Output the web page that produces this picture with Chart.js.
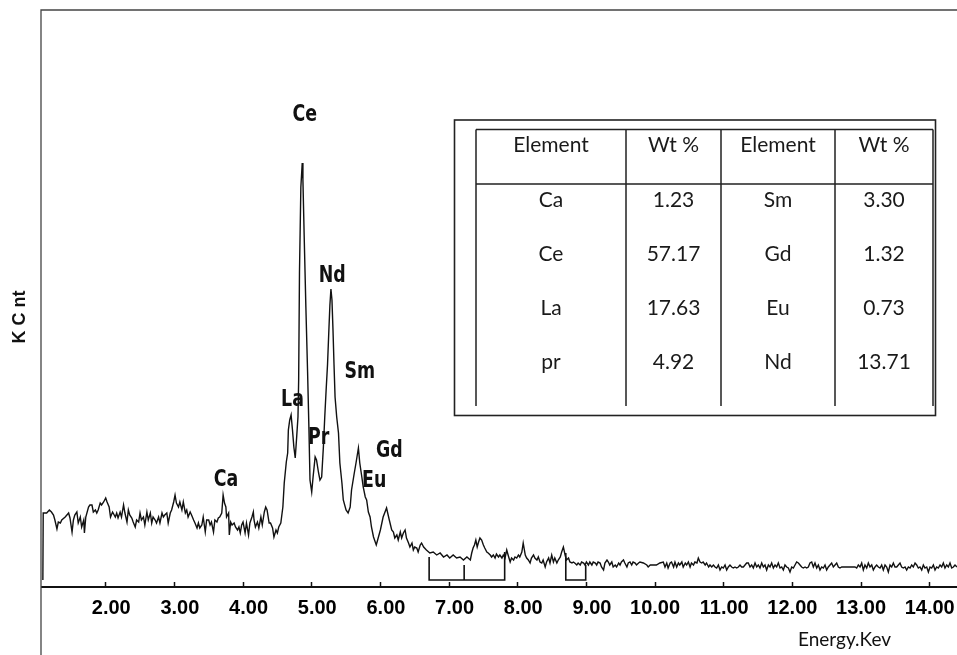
<!DOCTYPE html>
<html>
<head>
<meta charset="utf-8">
<script src="https://cdn.jsdelivr.net/npm/chart.js@4.4.0/dist/chart.umd.min.js"></script>
<style>
  html, body { margin: 0; padding: 0; background: #fff; }
  #wrap { width: 957px; height: 655px; position: relative; }
</style>
</head>
<body>
<div id="wrap"><canvas id="edsChart"></canvas></div>
<script>
// EDS spectrum: [energy keV, counts]
const spectrum = [
  [1.085,0],[1.09,67],[1.12,67],[1.14,67],[1.18,70],[1.21,68],[1.24,65],[1.26,60],[1.29,51],[1.31,58],
  [1.34,57],[1.36,60],[1.41,63],[1.46,67],[1.48,62],[1.51,48],[1.53,60],[1.55,65],[1.58,68],[1.60,57],
  [1.63,63],[1.65,53],[1.68,60],[1.69,47],[1.71,63],[1.75,73],[1.77,75],[1.80,75],[1.82,68],[1.85,70],
  [1.87,67],[1.89,70],[1.92,77],[1.94,75],[1.97,78],[2.00,82],[2.02,78],[2.05,73],[2.07,63],[2.10,68],
  [2.14,63],[2.16,67],[2.18,62],[2.21,68],[2.23,63],[2.26,75],[2.28,67],[2.31,58],[2.33,70],[2.35,65],
  [2.38,62],[2.40,58],[2.43,53],[2.45,60],[2.48,58],[2.50,67],[2.52,60],[2.55,63],[2.57,55],[2.60,68],
  [2.62,60],[2.65,67],[2.67,57],[2.69,63],[2.72,60],[2.74,57],[2.77,63],[2.79,57],[2.82,67],[2.84,63],
  [2.86,65],[2.89,67],[2.91,57],[2.94,67],[2.96,70],[2.99,78],[3.01,85],[3.03,77],[3.06,73],[3.08,78],
  [3.11,70],[3.13,78],[3.16,67],[3.18,70],[3.20,63],[3.23,68],[3.25,65],[3.28,60],[3.30,57],[3.33,52],
  [3.35,57],[3.37,52],[3.40,55],[3.42,63],[3.45,48],[3.47,60],[3.50,60],
  [3.52,55],[3.54,58],[3.57,48],[3.59,60],[3.62,58],[3.64,62],[3.66,63],[3.69,67],[3.71,85],[3.73,77],
  [3.75,73],[3.76,63],[3.79,67],[3.80,45],[3.82,58],[3.84,55],[3.87,57],[3.89,53],[3.92,50],[3.94,53],
  [3.96,47],[3.98,55],[4.00,58],[4.03,47],[4.05,57],[4.08,45],[4.10,57],[4.13,63],[4.15,68],[4.16,60],
  [4.18,53],[4.21,58],[4.23,52],[4.26,63],[4.28,55],[4.31,68],[4.33,73],[4.35,70],[4.38,57],[4.40,57],
  [4.43,52],[4.45,43],[4.48,50],[4.50,47],[4.52,53],[4.55,57],[4.58,73],[4.60,97],[4.63,118],[4.65,127],
  [4.66,150],[4.68,160],[4.70,165],[4.72,150],[4.74,133],[4.76,122],[4.78,142],[4.80,163],
  [4.81,200],[4.822,308],[4.842,393],[4.862,417],[4.872,400],[4.89,345],[4.915,273],[4.94,208],[4.96,150],[4.975,100],
  [5.00,88],[5.02,103],[5.05,123],[5.07,120],[5.10,107],[5.12,100],[5.145,103],[5.17,133],[5.19,163],[5.21,190],
  [5.23,215],[5.25,250],[5.265,275],[5.28,291],[5.295,280],[5.31,250],[5.325,215],[5.34,183],[5.364,163],[5.39,147],
  [5.41,117],[5.44,97],[5.46,80],[5.50,70],[5.53,67],[5.56,73],[5.58,90],[5.62,107],[5.645,117],[5.68,132],
  [5.70,117],[5.73,103],[5.75,93],[5.78,83],[5.80,80],[5.825,68],[5.85,63],[5.87,53],[5.90,43],[5.94,35],
  [5.96,40],[6.00,50],[6.04,63],[6.09,72],[6.13,60],[6.165,50],[6.19,48],[6.21,42],[6.24,45],[6.26,40],
  [6.29,48],[6.31,42],[6.335,47],[6.36,50],[6.38,42],[6.41,37],[6.43,33],[6.46,37],[6.48,30],[6.50,33],
  [6.53,32],[6.55,28],[6.58,35],[6.60,37],[6.63,33],[6.67,30],[6.72,27],[6.77,28],[6.82,25],[6.87,27],
  [6.92,23],[6.97,25],[7.01,22],[7.06,25],[7.11,22],[7.16,23],[7.21,20],[7.26,23],[7.31,20],[7.33,27],
  [7.35,32],[7.37,35],[7.39,40],[7.41,33],[7.43,38],[7.45,42],[7.475,40],[7.50,35],[7.52,32],[7.55,28],
  [7.57,27],[7.60,25],[7.62,23],[7.645,25],[7.67,22],[7.69,26],[7.72,23],[7.74,25],[7.77,22],[7.79,25],
  [7.815,22],[7.84,30],[7.86,25],[7.89,18],[7.91,22],[7.94,20],[7.96,23],[7.985,22],[8.01,25],[8.03,23],
  [8.06,28],[8.08,37],[8.11,25],[8.13,22],[8.155,20],[8.18,17],[8.20,22],[8.23,25],[8.25,22],[8.28,20],
  [8.30,23],[8.325,18],[8.35,17],[8.37,20],[8.40,13],[8.42,18],[8.45,22],[8.47,17],[8.495,25],[8.52,18],
  [8.54,22],[8.57,17],[8.59,20],[8.62,23],[8.64,28],[8.665,33],[8.69,25],[8.71,20],[8.74,22],[8.76,18],
  [8.79,17],[8.81,18],[8.83,17],[8.86,15],[8.88,17],[8.91,15],[8.93,18],[8.96,17],[8.98,15],[9.00,18],
  [9.03,15],[9.05,18],[9.08,15],[9.10,18],[9.13,17],[9.15,15],[9.17,18],[9.20,17],[9.22,13],[9.25,10],
  [9.27,17],[9.30,20],[9.32,18],[9.34,15],[9.37,18],[9.39,13],[9.42,15],[9.44,13],[9.47,17],[9.49,15],
  [9.51,18],[9.54,20],[9.56,17],[9.59,13],[9.61,17],[9.635,18],[9.66,15],[9.68,18],[9.71,17],[9.73,15],
  [9.76,17],[9.78,18],[9.83,17],[9.88,15],[9.90,13],[9.93,15],[9.975,15],[10.02,15],[10.07,17],[10.12,18],
  [10.145,13],[10.17,17],[10.19,12],[10.22,17],[10.24,18],[10.27,13],[10.29,18],[10.315,13],[10.34,17],[10.36,15],
  [10.39,18],[10.41,13],[10.44,17],[10.46,15],[10.485,18],[10.51,13],[10.53,17],[10.56,15],[10.58,18],[10.61,17],
  [10.63,22],[10.655,18],[10.68,17],[10.70,18],[10.73,15],[10.75,17],[10.78,13],[10.80,15],[10.825,13],[10.85,15],
  [10.873,13],[10.897,12],[10.922,15],[10.946,10],[10.97,13],[10.994,12],[11.019,15],[11.043,10],[11.067,13],[11.091,15],
  [11.116,13],[11.14,12],[11.164,13],[11.189,12],[11.213,13],[11.237,15],[11.261,13],[11.286,13],[11.31,15],[11.334,17],
  [11.358,17],[11.383,13],[11.407,15],[11.431,12],[11.456,17],[11.48,13],[11.504,15],[11.528,12],[11.553,17],[11.577,13],
  [11.601,15],[11.625,10],[11.65,15],[11.674,13],[11.698,17],[11.723,12],[11.747,15],[11.771,13],[11.795,17],[11.82,12],
  [11.844,13],[11.868,10],[11.892,15],[11.917,13],[11.941,12],[11.965,8],[11.99,13],[12.014,12],[12.038,15],[12.062,18],
  [12.087,17],[12.111,15],[12.135,13],[12.159,12],[12.184,13],[12.208,12],[12.232,13],[12.256,17],[12.281,18],[12.305,13],
  [12.329,17],[12.354,12],[12.378,15],[12.402,10],[12.426,13],[12.451,12],[12.475,15],[12.499,10],[12.523,13],[12.548,15],
  [12.572,17],[12.596,13],[12.621,15],[12.645,17],[12.669,13],[12.693,12],[12.718,13],[12.766,13],[12.815,13],[12.863,13],
  [12.912,13],[12.936,12],[12.96,15],[12.985,13],[13.009,17],[13.033,10],[13.057,15],[13.082,12],[13.106,17],[13.13,13],
  [13.155,15],[13.179,10],[13.203,13],[13.227,15],[13.252,13],[13.276,12],[13.3,15],[13.324,10],[13.349,15],[13.373,13],
  [13.397,8],[13.422,15],[13.446,13],[13.47,17],[13.494,13],[13.519,13],[13.543,15],[13.567,17],[13.591,13],[13.616,12],
  [13.64,13],[13.664,10],[13.689,13],[13.713,12],[13.737,15],[13.761,13],[13.786,17],[13.81,15],[13.834,12],[13.858,13],
  [13.883,10],[13.907,15],[13.931,12],[13.956,13],[13.98,8],[14.004,13],[14.028,12],[14.053,15],[14.077,10],[14.101,13],
  [14.125,12],[14.15,15],[14.174,13],[14.198,17],[14.222,12],[14.247,15],[14.271,13],[14.295,17],[14.32,12],[14.344,13],
  [14.368,15],[14.397,13]
];

// region-of-interest brackets under the spectrum (null breaks the line)
const roiKeV    = [6.71, 6.71, 7.81, 7.81, null, 7.22, 7.22, null, 8.70, 8.70, 8.99, 8.99];
const roiCounts = [23,   0,    0,    28,   null, 15,   0,    null, 27,   0,    0,    15];

// peak identification labels
const peakNames  = ['Ce', 'Nd', 'Sm', 'La', 'Pr', 'Gd', 'Eu', 'Ca'];
const peakKeV    = [4.90, 5.30, 5.70, 4.72, 5.10, 6.13, 5.91, 3.75];
const peakCounts = [465,  304,  208,  180,  142,  129,  99,   100];

const xTicks = [2, 3, 4, 5, 6, 7, 8, 9, 10, 11, 12, 13, 14];

// composition table
const tableHeader = ['Element', 'Wt %', 'Element', 'Wt %'];
const elemLeft  = ['Ca', 'Ce', 'La', 'pr'];
const wtLeft    = ['1.23', '57.17', '17.63', '4.92'];
const elemRight = ['Sm', 'Gd', 'Eu', 'Nd'];
const wtRight   = ['3.30', '1.32', '0.73', '13.71'];

const condensed = "'DejaVu Sans Condensed', 'DejaVu Sans', sans-serif";

const decor = {
  id: 'edsDecor',
  afterDraw(chart) {
    const { ctx, scales } = chart;
    const xs = scales.x, ys = scales.y;
    ctx.save();

    // frame: left and top edges
    ctx.strokeStyle = '#444';
    ctx.lineWidth = 1.3;
    ctx.beginPath();
    ctx.moveTo(41, 655);
    ctx.lineTo(41, 10);
    ctx.lineTo(957, 10);
    ctx.stroke();

    // peak labels, squeezed a little to get the narrow bold look
    ctx.fillStyle = '#111';
    ctx.font = 'bold 23px ' + condensed;
    ctx.textAlign = 'center';
    ctx.textBaseline = 'middle';
    peakNames.forEach((name, i) => {
      ctx.save();
      ctx.translate(xs.getPixelForValue(peakKeV[i]), ys.getPixelForValue(peakCounts[i]));
      ctx.scale(0.84, 1);
      ctx.fillText(name, 0, 0);
      ctx.restore();
    });

    // axis titles
    ctx.font = "19px Lato, 'Open Sans', sans-serif";
    ctx.textAlign = 'left';
    ctx.textBaseline = 'alphabetic';
    ctx.fillText('Energy.Kev', 798, 646);

    ctx.save();
    ctx.translate(20, 317);
    ctx.rotate(-Math.PI / 2);
    ctx.font = "bold 18px 'Liberation Sans', sans-serif";
    ctx.textAlign = 'center';
    ctx.textBaseline = 'middle';
    ctx.fillText('K C nt', 0, 0);
    ctx.restore();

    // table
    ctx.strokeStyle = '#222';
    ctx.lineWidth = 1.6;
    ctx.strokeRect(454.5, 120, 481, 295.5);

    const colX = [476, 626, 721, 835, 933];
    const top = 129.5, headBottom = 184, bottom = 406;
    ctx.lineWidth = 1.5;
    ctx.beginPath();
    ctx.moveTo(colX[0], top); ctx.lineTo(colX[4], top);
    ctx.moveTo(colX[0], headBottom); ctx.lineTo(colX[4], headBottom);
    colX.forEach(x => { ctx.moveTo(x, top); ctx.lineTo(x, bottom); });
    ctx.stroke();

    const centers = [551, 673.5, 778, 884];
    const rowY = [200, 254, 308, 362.5];
    ctx.font = "21px Lato, 'Open Sans', sans-serif";
    ctx.textAlign = 'center';
    ctx.textBaseline = 'middle';
    ctx.fillStyle = '#1a1a1a';
    tableHeader.forEach((t, i) => ctx.fillText(t, centers[i], 145));
    [elemLeft, wtLeft, elemRight, wtRight].forEach((col, c) => {
      col.forEach((t, r) => ctx.fillText(t, centers[c], rowY[r]));
    });

    ctx.restore();
  }
};

new Chart(document.getElementById('edsChart'), {
  type: 'line',
  data: {
    datasets: [
      {
        data: spectrum.map(([e, c]) => ({ x: e, y: c })),
        borderColor: '#111',
        borderWidth: 1.4,
        pointRadius: 0,
        tension: 0,
        fill: false
      },
      {
        data: roiKeV.map((e, i) => ({ x: e, y: roiCounts[i] })),
        borderColor: '#111',
        borderWidth: 1.6,
        pointRadius: 0,
        spanGaps: false,
        fill: false
      }
    ]
  },
  options: {
    responsive: true,
    maintainAspectRatio: false,
    animation: false,
    events: [],
    layout: { padding: { top: 10, left: 42, right: 0, bottom: 0 } },
    plugins: { legend: { display: false }, tooltip: { enabled: false } },
    scales: {
      x: {
        type: 'linear',
        min: 1.0724,
        max: 14.397,
        afterBuildTicks: (s) => { s.ticks = xTicks.map(v => ({ value: v })); },
        afterFit: (s) => { s.height = 68; },
        ticks: {
          callback: (v) => Number(v).toFixed(2),
          align: 'end',
          labelOffset: 25,
          padding: 14,
          autoSkip: false,
          maxRotation: 0,
          color: '#000',
          font: { family: "'Liberation Sans', Arial, sans-serif", size: 20, weight: 'bold' }
        },
        grid: {
          display: true,
          drawOnChartArea: false,
          drawTicks: true,
          tickLength: -5,
          tickWidth: 1.5,
          tickColor: '#111'
        },
        border: { display: true, color: '#111', width: 2 }
      },
      y: {
        display: false,
        min: -7,
        max: 570
      }
    }
  },
  plugins: [decor]
});
</script>
</body>
</html>
